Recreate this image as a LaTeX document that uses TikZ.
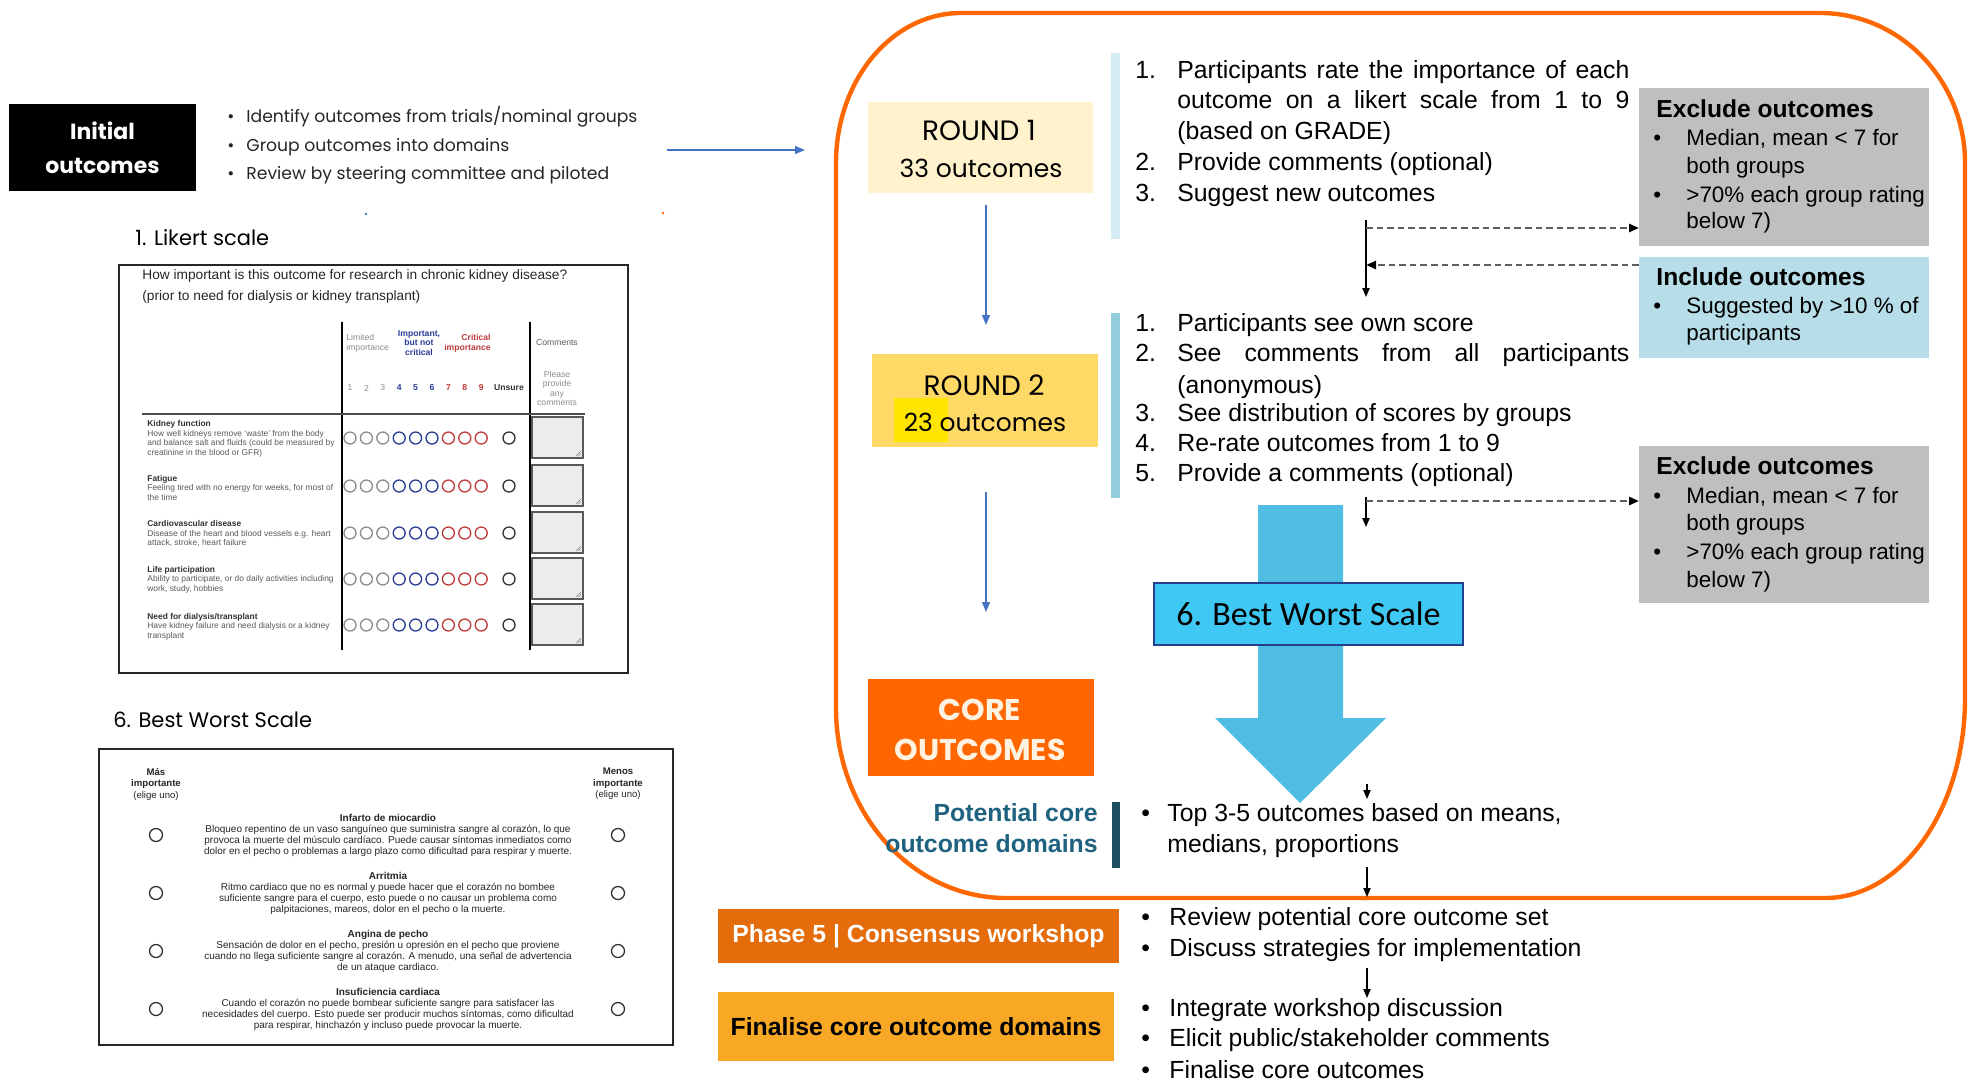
\documentclass[tikz,border=0pt]{standalone}
\usepackage{fontspec}
\setmainfont{Liberation Sans}
\newfontfamily\gothic{Poppins}
\newfontfamily\calib{Carlito}
\usetikzlibrary{arrows.meta}

\definecolor{frameor}{RGB}{255,104,0}
\definecolor{roundone}{RGB}{255,242,204}
\definecolor{roundtwo}{RGB}{255,217,102}
\definecolor{hiyel}{RGB}{255,228,0}
\definecolor{barone}{RGB}{214,236,244}
\definecolor{bartwo}{RGB}{146,205,222}
\definecolor{greybox}{RGB}{191,191,191}
\definecolor{incbox}{RGB}{183,222,232}
\definecolor{bigarrow}{RGB}{80,190,226}
\definecolor{bwsfill}{RGB}{64,200,244}
\definecolor{bwsline}{RGB}{36,64,140}
\definecolor{coreor}{RGB}{255,102,0}
\definecolor{corecream}{RGB}{255,242,224}
\definecolor{tealtxt}{RGB}{30,98,128}
\definecolor{tealbar}{RGB}{30,78,96}
\definecolor{phaseor}{RGB}{228,108,10}
\definecolor{finyel}{RGB}{249,168,37}
\definecolor{thinblue}{RGB}{68,114,196}
\definecolor{dashgrey}{RGB}{95,95,95}
\definecolor{lkgrey}{RGB}{140,140,140}
\definecolor{lkblue}{RGB}{40,60,150}
\definecolor{lkred}{RGB}{192,58,58}
\definecolor{lkdark}{RGB}{50,50,50}
\definecolor{lktext}{RGB}{90,90,90}
\definecolor{lkbox}{RGB}{236,236,236}

\tikzset{
  panel/.style={inner sep=0pt, outer sep=0pt},
  rtx/.style={anchor=west, inner sep=0pt, font=\fontsize{12.4}{15}\selectfont, text height=9pt, text depth=2.6pt},
  rtxe/.style={rtx, anchor=east},
  gtx/.style={anchor=west, inner sep=0pt, font=\fontsize{11.2}{14}\selectfont, text height=8.1pt, text depth=2.3pt},
  gtitle/.style={anchor=west, inner sep=0pt, font=\fontsize{12.3}{15}\selectfont\bfseries, text height=9pt, text depth=2.6pt},
  ltx/.style={anchor=west, inner sep=0pt, font=\gothic\fontsize{8.6}{11}\selectfont, text=black!85, text height=6.5pt, text depth=2pt},
  roundtx/.style={inner sep=0pt, font=\gothic\fontsize{14}{16}\selectfont},
  outtx/.style={inner sep=0pt, font=\gothic\fontsize{12.5}{14}\selectfont},
  coretx/.style={inner sep=0pt, text=corecream, font=\gothic\bfseries\fontsize{15}{17}\selectfont},
  flow/.style={-{Triangle[length=5pt,width=4pt]}, line width=0.6pt, thinblue},
  blk/.style={-{Triangle[length=4.5pt,width=3.6pt]}, line width=0.7pt, black},
  dsh/.style={-{Triangle[length=5pt,width=4pt,black]}, line width=1.3pt, dash pattern=on 3.3pt off 2pt, dashgrey},
  lkrow/.style={anchor=west, align=left, inner sep=0pt, font=\fontsize{4.2}{4.75}\selectfont, text=lktext},
  lkhead/.style={inner sep=0pt, font=\fontsize{4.3}{4.8}\selectfont},
  bwsrow/.style={align=center, inner sep=0pt, font=\fontsize{5.0}{5.5}\selectfont, text=black!85},
  bwshead/.style={align=center, inner sep=0pt, font=\fontsize{4.8}{5.75}\selectfont, text=black!85},
  lkc/.style={line width=0.65pt}
}

\begin{document}
\begin{tikzpicture}[x=0.5pt,y=-0.5pt]
\useasboundingbox (0,0) rectangle (1968,1083);
\fill[white] (0,0) rectangle (1968,1083);

% ---------------- left column: initial outcomes ----------------
\node[panel, fill=black, minimum width=93.5pt, minimum height=43.5pt, text=white,
      font=\gothic\bfseries\fontsize{11}{17}\selectfont, align=center] (init) at (102.5,147.5) {Initial\\outcomes};
\node[ltx] (ib1) at (227,118) {•};
\node[ltx] (it1) at (246,118) {Identify outcomes from trials/nominal groups};
\node[ltx] (ib2) at (227,147) {•};
\node[ltx] (it2) at (246,147) {Group outcomes into domains};
\node[ltx] (ib3) at (227,175) {•};
\node[ltx] (it3) at (246,175) {Review by steering committee and piloted};
\coordinate (ia) at (667,150);
\coordinate (ib) at (805,150);
\draw[flow] (ia) -- (ib);
\fill[thinblue] (366,214) circle[radius=1.4];
\fill[frameor] (663,213) circle[radius=1.4];

% ---------------- Likert scale form ----------------
\node[anchor=west, inner sep=0pt, font=\gothic\fontsize{10.5}{12}\selectfont] (lklab) at (135,238) {1. Likert scale};
\draw[line width=1.2pt, black!85] (119,265) rectangle (628,673);
\node[anchor=west, align=left, inner sep=0pt, font=\fontsize{6.85}{10.5}\selectfont, text=black!85] (lkq) at (142,286.5)
  {How important is this outcome for research in chronic kidney disease?\\(prior to need for dialysis or kidney transplant)};
\draw[line width=0.7pt] (342,322) -- (342,650);
\draw[line width=0.7pt] (530,322) -- (530,650);
\draw[line width=0.8pt, black!70] (142,414) -- (585,414);

\node[lkhead, anchor=west, align=left, text=lkgrey] (hlim) at (346,343) {Limited\\importance};
\node[lkhead, align=center, text=lkblue, font=\fontsize{4.3}{4.8}\selectfont\bfseries] (himp) at (419,343) {Important,\\but not\\critical};
\node[lkhead, anchor=east, align=right, text=lkred, font=\fontsize{4.3}{4.8}\selectfont\bfseries] (hcrit) at (491,343) {Critical\\importance};
\node[lkhead, text=lktext] (hcom) at (557,343) {Comments};
\node[lkhead, align=center, text=lkgrey] (hplz) at (557,388.5) {Please\\provide\\any\\comments};
\foreach \xx/\nn in {350/1,366.4/2,382.8/3}
  \node[lkhead, text=lkgrey] (n\nn) at (\xx,388) {\nn};
\foreach \xx/\nn in {399.2/4,415.6/5,432/6}
  \node[lkhead, text=lkblue, font=\fontsize{4.3}{4.8}\selectfont\bfseries] (n\nn) at (\xx,388) {\nn};
\foreach \xx/\nn in {448.4/7,464.8/8,481.2/9}
  \node[lkhead, text=lkred, font=\fontsize{4.3}{4.8}\selectfont\bfseries] (n\nn) at (\xx,388) {\nn};
\node[lkhead, text=lkdark, font=\fontsize{4.3}{4.8}\selectfont\bfseries] (nuns) at (509,388) {Unsure};

\foreach \yy in {438,486,533,579,625} {
  \foreach \xx in {350,366.4,382.8} \draw[lkc, lkgrey] (\xx,\yy) circle[radius=6];
  \foreach \xx in {399.2,415.6,432} \draw[lkc, lkblue] (\xx,\yy) circle[radius=6];
  \foreach \xx in {448.4,464.8,481.2} \draw[lkc, lkred] (\xx,\yy) circle[radius=6];
  \draw[lkc, lkdark] (509,\yy) circle[radius=6];
  \draw[line width=0.7pt, black!65, fill=lkbox] (532,\yy-21) rectangle (583,\yy+20);
  \draw[line width=0.3pt, black!50] (576,\yy+18) -- (581,\yy+13) (578.5,\yy+18) -- (581,\yy+15.5);
}
\node[lkrow] (lr1) at (147,439) {{\color{lkdark}\bfseries Kidney function}\\How well kidneys remove ‘waste’ from the body\\and balance salt and fluids (could be measured by\\creatinine in the blood or GFR)};
\node[lkrow] (lr2) at (147,487.5) {{\color{lkdark}\bfseries Fatigue}\\Feeling tired with no energy for weeks, for most of\\the time};
\node[lkrow] (lr3) at (147,533.5) {{\color{lkdark}\bfseries Cardiovascular disease}\\Disease of the heart and blood vessels e.g. heart\\attack, stroke, heart failure};
\node[lkrow] (lr4) at (147,579.5) {{\color{lkdark}\bfseries Life participation}\\Ability to participate, or do daily activities including\\work, study, hobbies};
\node[lkrow] (lr5) at (147,626.5) {{\color{lkdark}\bfseries Need for dialysis/transplant}\\Have kidney failure and need dialysis or a kidney\\transplant};

% ---------------- Best Worst Scale form ----------------
\node[anchor=west, inner sep=0pt, font=\gothic\fontsize{10.5}{12}\selectfont] (bwlab) at (113,720) {6. Best Worst Scale};
\draw[line width=1.2pt, black!85] (99,749) rectangle (673,1045);
\node[bwshead] (bwl) at (156,784) {{\bfseries Más}\\{\bfseries importante}\\(elige uno)};
\node[bwshead] (bwr) at (618,784) {{\bfseries Menos}\\{\bfseries importante}\\(elige uno)};
\foreach \yy in {835,893,951,1009} {
  \draw[line width=0.65pt, black!80] (156,\yy) circle[radius=6.5];
  \draw[line width=0.65pt, black!80] (618,\yy) circle[radius=6.5];
}
\node[bwsrow] (bw1) at (388,835) {{\bfseries Infarto de miocardio}\\Bloqueo repentino de un vaso sanguíneo que suministra sangre al corazón, lo que\\provoca la muerte del músculo cardíaco. Puede causar síntomas inmediatos como\\dolor en el pecho o problemas a largo plazo como dificultad para respirar y muerte.};
\node[bwsrow] (bw2) at (388,893) {{\bfseries Arritmia}\\Ritmo cardiaco que no es normal y puede hacer que el corazón no bombee\\suficiente sangre para el cuerpo, esto puede o no causar un problema como\\palpitaciones, mareos, dolor en el pecho o la muerte.};
\node[bwsrow] (bw3) at (388,951) {{\bfseries Angina de pecho}\\Sensación de dolor en el pecho, presión u opresión en el pecho que proviene\\cuando no llega suficiente sangre al corazón. A menudo, una señal de advertencia\\de un ataque cardiaco.};
\node[bwsrow] (bw4) at (388,1009) {{\bfseries Insuficiencia cardiaca}\\Cuando el corazón no puede bombear suficiente sangre para satisfacer las\\necesidades del cuerpo. Esto puede ser producir muchos síntomas, como dificultad\\para respirar, hinchazón y incluso puede provocar la muerte.};

% ---------------- Delphi frame ----------------
\draw[frameor, line width=2.2pt]
  (836,163) arc[start angle=180, end angle=270, x radius=125, y radius=150]
  -- (1820,13) arc[start angle=270, end angle=360, x radius=145, y radius=150]
  -- (1965,698) arc[start angle=0, end angle=90, x radius=140, y radius=200]
  -- (1006,898) arc[start angle=90, end angle=180, x radius=170, y radius=190]
  -- cycle;

% round 1
\node[panel, fill=roundone, minimum width=112.5pt, minimum height=45.5pt] (rnd1) at (980.5,147.5) {};
\node[roundtx] (rnd1a) at (979,130) {ROUND 1};
\node[outtx] (rnd1b) at (981,168) {33 outcomes};
\fill[barone] (1111,53) rectangle (1120,239);
\node[rtx] (p1n1) at (1135,72) {1.};
\node[rtx] (p1t1) at (1177,72) {\makebox[226pt][s]{Participants rate the importance of each}};
\node[rtx] (p1t1b) at (1177,102) {\makebox[226pt][s]{outcome on a likert scale from 1 to 9}};
\node[rtx] (p1t1c) at (1177,133) {(based on GRADE)};
\node[rtx] (p1n2) at (1135,164) {2.};
\node[rtx] (p1t2) at (1177,164) {Provide comments (optional)};
\node[rtx] (p1n3) at (1135,195) {3.};
\node[rtx] (p1t3) at (1177,195) {Suggest new outcomes};

% exclusion / inclusion after round 1
\node[panel, fill=greybox, minimum width=145pt, minimum height=79pt] (ex1) at (1784,167) {};
\node[gtitle] (ex1t) at (1656,111) {Exclude outcomes};
\node[gtx] (ex1b1) at (1653,140) {•};
\node[gtx] (ex1l1) at (1686,140) {Median, mean < 7 for};
\node[gtx] (ex1l2) at (1686,168) {both groups};
\node[gtx] (ex1b2) at (1653,197) {•};
\node[gtx] (ex1l3) at (1686,197) {>70\% each group rating};
\node[gtx] (ex1l4) at (1686,223) {below 7)};

\node[panel, fill=incbox, minimum width=145pt, minimum height=50.5pt] (inc) at (1784,307.5) {};
\node[gtitle] (inct) at (1656,279) {Include outcomes};
\node[gtx] (incb1) at (1653,308) {•};
\node[gtx] (incl1) at (1686,308) {Suggested by >10 \% of};
\node[gtx] (incl2) at (1686,335) {participants};

\coordinate (v1top) at (1366,220);
\coordinate (v1bot) at (1366,297);
\coordinate (v1out) at (1366,228);
\coordinate (v1in) at (1366,265);
\coordinate (incin) at (1639,265);
\draw[blk] (v1top) -- (v1bot);
\draw[dsh] (v1out) -- (v1out -| ex1.west);
\draw[dsh] (incin) -- (v1in);

\coordinate (f1a) at (986,205);
\coordinate (f1b) at (986,325);
\draw[flow] (f1a) -- (f1b);

% round 2
\node[panel, fill=roundtwo, minimum width=113pt, minimum height=46.5pt] (rnd2) at (985,400.5) {};
\node[panel, fill=hiyel, minimum width=27pt, minimum height=22pt] (hl23) at (921,420) {};
\node[roundtx] (rnd2a) at (984,385) {ROUND 2};
\node[outtx] (rnd2b) at (985,422) {23 outcomes};
\fill[bartwo] (1111,313) rectangle (1120,498);
\node[rtx] (p2n1) at (1135,325) {1.};
\node[rtx] (p2t1) at (1177,325) {Participants see own score};
\node[rtx] (p2n2) at (1135,355) {2.};
\node[rtx] (p2t2) at (1177,355) {\makebox[226pt][s]{See comments from all participants}};
\node[rtx] (p2t2b) at (1177,387) {(anonymous)};
\node[rtx] (p2n3) at (1135,415) {3.};
\node[rtx] (p2t3) at (1177,415) {See distribution of scores by groups};
\node[rtx] (p2n4) at (1135,445) {4.};
\node[rtx] (p2t4) at (1177,445) {Re-rate outcomes from 1 to 9};
\node[rtx] (p2n5) at (1135,475) {5.};
\node[rtx] (p2t5) at (1177,475) {Provide a comments (optional)};

\node[panel, fill=greybox, minimum width=145pt, minimum height=78.5pt] (ex2) at (1784,524.5) {};
\node[gtitle] (ex2t) at (1656,468) {Exclude outcomes};
\node[gtx] (ex2b1) at (1653,498) {•};
\node[gtx] (ex2l1) at (1686,498) {Median, mean < 7 for};
\node[gtx] (ex2l2) at (1686,525) {both groups};
\node[gtx] (ex2b2) at (1653,554) {•};
\node[gtx] (ex2l3) at (1686,554) {>70\% each group rating};
\node[gtx] (ex2l4) at (1686,582) {below 7)};

\coordinate (v2top) at (1366,497);
\coordinate (v2bot) at (1366,527);
\coordinate (v2out) at (1366,501);
\draw[blk] (v2top) -- (v2bot);
\draw[dsh] (v2out) -- (v2out -| ex2.west);

\coordinate (f2a) at (986,492);
\coordinate (f2b) at (986,612);
\draw[flow] (f2a) -- (f2b);

% best worst scale arrow
\fill[bigarrow] (1258,505) -- (1343,505) -- (1343,718) -- (1386,718) -- (1300,803)
  -- (1215,718) -- (1258,718) -- cycle;
\node[panel, fill=bwsfill, draw=bwsline, line width=1pt, minimum width=154.5pt, minimum height=31pt,
      font=\calib\fontsize{17}{20}\selectfont] (bws) at (1308.5,614) {6. Best Worst Scale};

% core outcomes
\node[panel, fill=coreor, minimum width=113pt, minimum height=48.5pt] (core) at (981,727.5) {};
\node[coretx] (corea) at (980,710) {CORE};
\node[coretx] (coreb) at (980,750) {OUTCOMES};

\coordinate (v3top) at (1367,784);
\coordinate (v3bot) at (1367,799);
\draw[blk] (v3top) -- (v3bot);
\node[rtxe, text=tealtxt, font=\fontsize{12.4}{15}\selectfont\bfseries] (pc1) at (1098,815) {Potential core};
\node[rtxe, text=tealtxt, font=\fontsize{12.4}{15}\selectfont\bfseries] (pc2) at (1098,846) {outcome domains};
\fill[tealbar] (1112,802) rectangle (1120,868);
\node[rtx] (pcb) at (1141,815) {•};
\node[rtx] (pct1) at (1167,815) {Top 3-5 outcomes based on means,};
\node[rtx] (pct2) at (1167,846) {medians, proportions};

\coordinate (v4top) at (1367,867);
\coordinate (v4bot) at (1367,897);
\draw[blk] (v4top) -- (v4bot);

% consensus workshop and finalisation
\node[panel, fill=phaseor, minimum width=200.5pt, minimum height=27pt, text=white,
      font=\fontsize{12.4}{15}\selectfont\bfseries] (ph5) at (918.5,936) {Phase 5 | Consensus workshop};
\node[rtx] (phb1) at (1141,919) {•};
\node[rtx] (pht1) at (1169,919) {Review potential core outcome set};
\node[rtx] (phb2) at (1141,950) {•};
\node[rtx] (pht2) at (1169,950) {Discuss strategies for implementation};

\coordinate (v5top) at (1367,968);
\coordinate (v5bot) at (1367,998);
\draw[blk] (v5top) -- (v5bot);

\node[panel, fill=finyel, minimum width=198pt, minimum height=34.5pt,
      font=\fontsize{12.4}{15}\selectfont\bfseries] (fin) at (916,1026.5) {Finalise core outcome domains};
\node[rtx] (fnb1) at (1141,1010) {•};
\node[rtx] (fnt1) at (1169,1010) {Integrate workshop discussion};
\node[rtx] (fnb2) at (1141,1040) {•};
\node[rtx] (fnt2) at (1169,1040) {Elicit public/stakeholder comments};
\node[rtx] (fnb3) at (1141,1072) {•};
\node[rtx] (fnt3) at (1169,1072) {Finalise core outcomes};
\end{tikzpicture}
\end{document}
